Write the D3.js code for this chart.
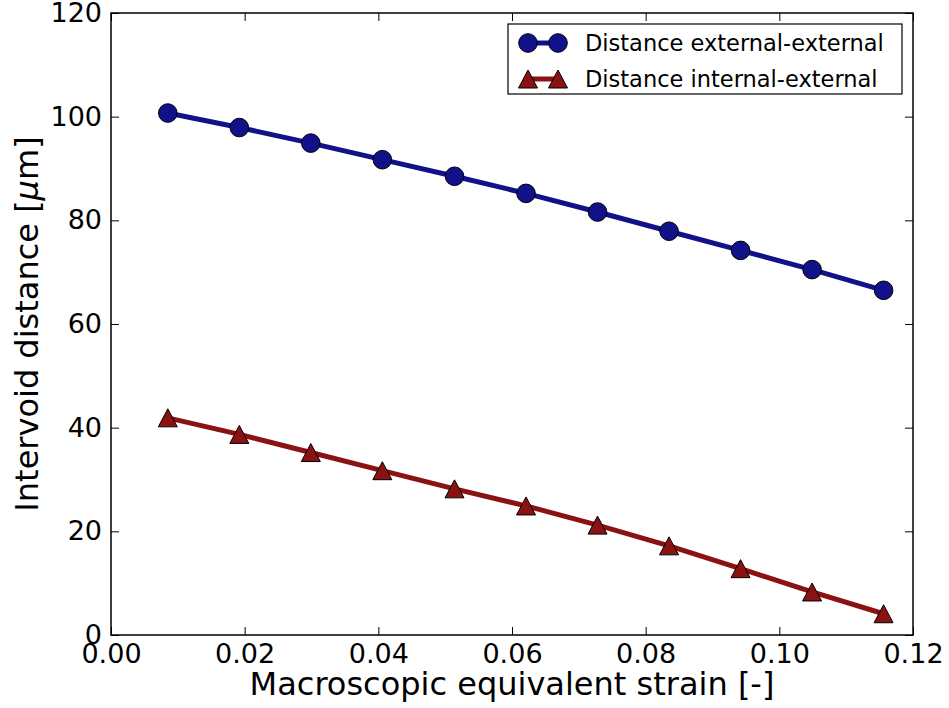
<!DOCTYPE html>
<html>
<head>
<meta charset="utf-8">
<script src="https://cdn.jsdelivr.net/npm/d3@7"></script>
<style>
body { margin: 0; background: #fff; }
text { font-family: "DejaVu Sans", sans-serif; fill: #000; }
</style>
</head>
<body>
<svg id="chart" width="949" height="708"></svg>
<script>
const strain = [0.0085, 0.0192, 0.0299, 0.0406, 0.0514, 0.0621, 0.0728, 0.0835, 0.0942, 0.1049, 0.1156];
const extExt = [100.7, 97.9, 94.9, 91.7, 88.5, 85.2, 81.6, 77.9, 74.2, 70.5, 66.5];
const intExt = [41.9, 38.7, 35.2, 31.7, 28.2, 24.9, 21.2, 17.2, 12.8, 8.3, 4.1];
const xTicks = [0, 0.02, 0.04, 0.06, 0.08, 0.10, 0.12];
const yTicks = [0, 20, 40, 60, 80, 100, 120];
const seriesNames = ["Distance external-external", "Distance internal-external"];

const svg = d3.select("#chart");
const m = {left: 111, right: 913, top: 13, bottom: 635};
const x = d3.scaleLinear().domain([0, 0.12]).range([m.left, m.right]);
const y = d3.scaleLinear().domain([0, 120]).range([m.bottom, m.top]);

const blue = "#11118a", red = "#8b1212";

const tickLen = 8;
const gB = svg.append("g").attr("transform", `translate(0,${m.bottom})`)
  .call(d3.axisBottom(x).tickValues(xTicks).tickSizeInner(-tickLen).tickSizeOuter(0).tickPadding(9).tickFormat(d3.format(".2f")));
const gT = svg.append("g").attr("transform", `translate(0,${m.top})`)
  .call(d3.axisTop(x).tickValues(xTicks).tickSizeInner(-tickLen).tickSizeOuter(0).tickFormat(""));
const gL = svg.append("g").attr("transform", `translate(${m.left},0)`)
  .call(d3.axisLeft(y).tickValues(yTicks).tickSizeInner(-tickLen).tickSizeOuter(0).tickPadding(9).tickFormat(d3.format("d")));
const gR = svg.append("g").attr("transform", `translate(${m.right},0)`)
  .call(d3.axisRight(y).tickValues(yTicks).tickSizeInner(-tickLen).tickSizeOuter(0).tickFormat(""));
[gB, gT, gL, gR].forEach(g => {
  g.select(".domain").remove();
  g.selectAll(".tick line").attr("stroke", "#000").attr("stroke-width", 1);
  g.selectAll(".tick text").attr("font-size", 27).attr("font-family", "DejaVu Sans");
});

svg.append("rect").attr("x", m.left).attr("y", m.top)
  .attr("width", m.right - m.left).attr("height", m.bottom - m.top)
  .attr("fill", "none").attr("stroke", "#000").attr("stroke-width", 1.5);

const line = d3.line().x(d => x(d[0])).y(d => y(d[1]));
const d1 = strain.map((s, i) => [s, extExt[i]]);
const d2 = strain.map((s, i) => [s, intExt[i]]);

svg.append("path").datum(d1).attr("d", line).attr("fill", "none").attr("stroke", blue).attr("stroke-width", 5);
svg.append("path").datum(d2).attr("d", line).attr("fill", "none").attr("stroke", red).attr("stroke-width", 5);

const circ = d3.symbol().type(d3.symbolCircle).size(Math.PI * 9.3 * 9.3);
function triPath(s) {
  const w = 9.5 * s, h = 9 * s;
  return `M0,${-h}L${w},${h}L${-w},${h}Z`;
}

svg.append("g").selectAll("path").data(d1).join("path")
  .attr("d", circ).attr("transform", d => `translate(${x(d[0])},${y(d[1])})`)
  .attr("fill", blue).attr("stroke", "#000").attr("stroke-width", 1);
svg.append("g").selectAll("path").data(d2).join("path")
  .attr("d", triPath(1)).attr("transform", d => `translate(${x(d[0])},${y(d[1])})`)
  .attr("fill", red).attr("stroke", "#000").attr("stroke-width", 1);

svg.append("text").attr("x", (m.left + m.right) / 2).attr("y", 695)
  .attr("text-anchor", "middle").attr("font-size", 32).text("Macroscopic equivalent strain [-]");
const yl = svg.append("text").attr("transform", `translate(38,${(m.top + m.bottom) / 2}) rotate(-90)`)
  .attr("text-anchor", "middle").attr("font-size", 32);
yl.append("tspan").text("Intervoid distance [");
yl.append("tspan").attr("font-style", "italic").text("μ");
yl.append("tspan").text("m]");

const lg = svg.append("g");
lg.append("rect").attr("x", 508).attr("y", 24).attr("width", 394).attr("height", 70)
  .attr("fill", "#fff").attr("stroke", "#000").attr("stroke-width", 1.2);
const rows = [
  {name: seriesNames[0], color: blue, mk: "c", yy: 43},
  {name: seriesNames[1], color: red, mk: "t", yy: 79}
];
rows.forEach(r => {
  lg.append("line").attr("x1", 528).attr("x2", 558).attr("y1", r.yy).attr("y2", r.yy)
    .attr("stroke", r.color).attr("stroke-width", 5);
  [528, 558].forEach(cx => {
    lg.append("path").attr("d", r.mk === "c" ? circ : triPath(1))
      .attr("transform", `translate(${cx},${r.yy})`)
      .attr("fill", r.color).attr("stroke", "#000").attr("stroke-width", 1);
  });
  lg.append("text").attr("x", 585).attr("y", r.yy).attr("dy", "0.35em")
    .attr("font-size", 22.5).text(r.name);
});
</script>
</body>
</html>
